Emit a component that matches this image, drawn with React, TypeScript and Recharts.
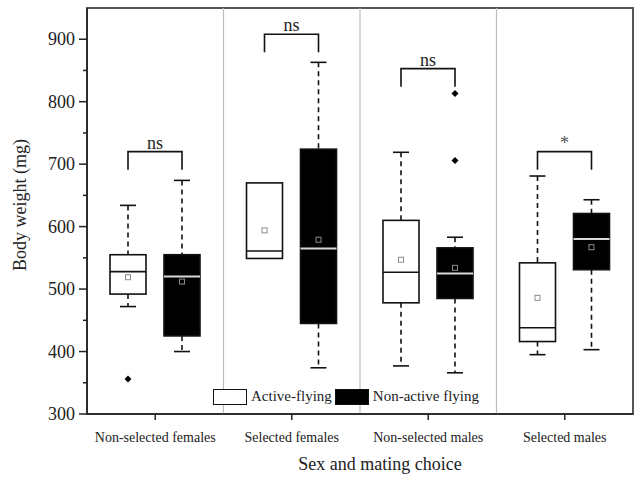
import {
  ComposedChart,
  Bar,
  XAxis,
  YAxis,
  Legend,
  ReferenceLine,
  ReferenceArea,
} from 'recharts';

const FONT = '"Liberation Serif", "Times New Roman", serif';

const CATEGORIES = ['Non-selected females', 'Selected females', 'Non-selected males', 'Selected males'];
const SERIES = ['Active-flying', 'Non-active flying'];
const FILLS = ['#ffffff', '#000000'];

// Active-flying box stats
const ACTIVE_MIN = [472, 549, 377, 395];
const ACTIVE_Q1 = [492, 549, 478, 416];
const ACTIVE_MEDIAN = [528, 561, 527, 438];
const ACTIVE_Q3 = [555, 670, 610, 542];
const ACTIVE_MAX = [634, 670, 719, 681];
const ACTIVE_MEAN = [519, 594, 547, 486];
const ACTIVE_OUTLIERS = [[356], [], [], []];

// Non-active flying box stats
const NONACTIVE_MIN = [400, 374, 366, 403];
const NONACTIVE_Q1 = [425, 445, 485, 531];
const NONACTIVE_MEDIAN = [520, 565, 525, 580];
const NONACTIVE_Q3 = [555, 724, 566, 621];
const NONACTIVE_MAX = [674, 863, 583, 643];
const NONACTIVE_MEAN = [512, 579, 534, 567];
const NONACTIVE_OUTLIERS = [[], [], [706, 813], []];

// significance brackets
const BRACKET_TOP = [720, 908, 853, 720];
const BRACKET_LEG = [691, 879, 824, 691];
const SIG_LABELS = ['ns', 'ns', 'ns', '*'];

const Y_TICKS = [300, 350, 400, 450, 500, 550, 600, 650, 700, 750, 800, 850, 900];
const GROUP_BOUNDS = [1, 2, 3];

const stats = (min: number[], q1: number[], med: number[], q3: number[], max: number[], mean: number[], out: number[][], i: number) => ({
  min: min[i], q1: q1[i], med: med[i], q3: q3[i], max: max[i], mean: mean[i], out: out[i],
});

const rows = CATEGORIES.map((cat, i) => {
  const a = stats(ACTIVE_MIN, ACTIVE_Q1, ACTIVE_MEDIAN, ACTIVE_Q3, ACTIVE_MAX, ACTIVE_MEAN, ACTIVE_OUTLIERS, i);
  const n = stats(NONACTIVE_MIN, NONACTIVE_Q1, NONACTIVE_MEDIAN, NONACTIVE_Q3, NONACTIVE_MAX, NONACTIVE_MEAN, NONACTIVE_OUTLIERS, i);
  return {
    cat,
    a,
    n,
    aRange: [Math.min(a.min, ...a.out), Math.max(a.max, ...a.out)],
    nRange: [Math.min(n.min, ...n.out), Math.max(n.max, ...n.out)],
    bracketTop: BRACKET_TOP[i],
    bracketLeg: BRACKET_LEG[i],
    sig: SIG_LABELS[i],
  };
});

const boxShape = (key: 'a' | 'n', dark: boolean) => (props: any) => {
  const { x, y, width, height, payload } = props;
  const s = payload[key];
  const [lo, hi] = payload[key + 'Range'];
  // linear map through the bar's own scaled extent
  const py = (v: number) => y + (height * (hi - v)) / (hi - lo);
  const cx = x + width / 2;
  const cap = 8;
  const ink = '#111';
  return (
    <g>
      {s.max > s.q3 && (
        <>
          <line x1={cx} x2={cx} y1={py(s.max)} y2={py(s.q3)} stroke={ink} strokeWidth={1.6} strokeDasharray="5 4" />
          <line x1={cx - cap} x2={cx + cap} y1={py(s.max)} y2={py(s.max)} stroke={ink} strokeWidth={1.6} />
        </>
      )}
      {s.min < s.q1 && (
        <>
          <line x1={cx} x2={cx} y1={py(s.q1)} y2={py(s.min)} stroke={ink} strokeWidth={1.6} strokeDasharray="5 4" />
          <line x1={cx - cap} x2={cx + cap} y1={py(s.min)} y2={py(s.min)} stroke={ink} strokeWidth={1.6} />
        </>
      )}
      <rect x={x} y={py(s.q3)} width={width} height={py(s.q1) - py(s.q3)} fill={dark ? '#000' : '#fff'} stroke={ink} strokeWidth={1.6} />
      <line x1={x} x2={x + width} y1={py(s.med)} y2={py(s.med)} stroke={dark ? '#d9d9d9' : ink} strokeWidth={dark ? 2 : 1.6} />
      <rect x={cx - 2.5} y={py(s.mean) - 2.5} width={5} height={5} fill={dark ? '#000' : '#fff'} stroke="#8c8c8c" strokeWidth={1} />
      {s.out.map((v: number, k: number) => {
        const oy = py(v);
        return <polygon key={k} points={`${cx},${oy - 3.5} ${cx + 3.5},${oy} ${cx},${oy + 3.5} ${cx - 3.5},${oy}`} fill="#000" />;
      })}
      {key === 'a' && (() => {
        const x2 = cx + width * 1.5;
        const top = py(payload.bracketTop);
        const leg = py(payload.bracketLeg);
        return (
          <g>
            <path d={`M${cx},${leg} L${cx},${top} L${x2},${top} L${x2},${leg}`} fill="none" stroke={ink} strokeWidth={1.6} />
            <text
              x={(cx + x2) / 2}
              y={top - 3}
              textAnchor="middle"
              fontFamily={FONT}
              fontSize={18}
              fill={payload.sig === '*' ? '#555' : '#222'}
            >
              {payload.sig}
            </text>
          </g>
        );
      })()}
    </g>
  );
};

const YTick = ({ x, y, payload }: any) => {
  const major = payload.value % 100 === 0;
  const edge = x + 12;
  return (
    <g>
      <line x1={edge - (major ? 8 : 4)} x2={edge} y1={y} y2={y} stroke="#222" strokeWidth={1.5} />
      {major && (
        <text x={x} y={y} dy={6} textAnchor="end" fontFamily={FONT} fontSize={18} fill="#222">
          {payload.value}
        </text>
      )}
    </g>
  );
};

const YTitle = ({ viewBox }: any) => {
  const cx = viewBox.x + 26;
  const cy = viewBox.y + viewBox.height / 2 - 6;
  return (
    <text x={cx} y={cy} transform={`rotate(-90 ${cx} ${cy})`} textAnchor="middle" fontFamily={FONT} fontSize={18} fill="#222">
      Body weight (mg)
    </text>
  );
};

const XTitle = ({ viewBox }: any) => (
  <text
    x={viewBox.x + viewBox.width / 2 + 20}
    y={viewBox.y + viewBox.height - 7}
    textAnchor="middle"
    fontFamily={FONT}
    fontSize={18}
    fill="#222"
  >
    Sex and mating choice
  </text>
);

const LegendContent = ({ payload }: any) => (
  <div style={{ display: 'flex', alignItems: 'center', fontFamily: FONT, fontSize: 15, color: '#222', whiteSpace: 'nowrap' }}>
    {(payload || []).map((e: any) => {
      const idx = SERIES.indexOf(e.value);
      return (
        <span key={e.value} style={{ display: 'flex', alignItems: 'center', marginRight: 3 }}>
          <span
            style={{
              display: 'inline-block',
              width: 34,
              height: 16,
              boxSizing: 'border-box',
              border: '1.5px solid #111',
              background: FILLS[idx],
              marginRight: 4,
            }}
          />
          {e.value}
        </span>
      );
    })}
  </div>
);

export default function App() {
  return (
    <div style={{ position: 'absolute', left: 0, top: 0, background: '#fff' }}>
      <ComposedChart
        width={634}
        height={477}
        data={rows}
        margin={{ top: 8, right: 1, bottom: 0, left: 0 }}
        barGap={18}
        barSize={36}
      >
        <XAxis xAxisId="sep" dataKey="none" type="number" domain={[0, 4]} allowDataOverflow hide />
        <XAxis
          xAxisId="cat"
          dataKey="cat"
          type="category"
          height={63}
          tickSize={6}
          tickMargin={12}
          axisLine={{ stroke: '#222', strokeWidth: 1.5 }}
          tickLine={{ stroke: '#222', strokeWidth: 1.5 }}
          tick={{ fontFamily: FONT, fontSize: 14, fill: '#222' }}
          interval={0}
          label={<XTitle />}
        />
        <YAxis
          type="number"
          domain={[300, 950]}
          ticks={Y_TICKS}
          allowDataOverflow
          width={87}
          tickSize={8}
          tickMargin={4}
          tickLine={false}
          axisLine={{ stroke: '#222', strokeWidth: 1.5 }}
          tick={<YTick />}
          interval={0}
          label={<YTitle />}
        />
        <ReferenceArea xAxisId="sep" x1={0} x2={4} y1={300} y2={950} fill="none" stroke="#555" strokeWidth={2} ifOverflow="visible" />
        {GROUP_BOUNDS.map((v) => (
          <ReferenceLine key={v} xAxisId="sep" x={v} stroke="#bdbdbd" strokeWidth={1.2} ifOverflow="visible" />
        ))}
        <Legend
          layout="vertical"
          align="center"
          verticalAlign="middle"
          content={<LegendContent />}
          wrapperStyle={{ left: 213, top: 388, width: 'auto' }}
        />
        <Bar
          xAxisId="cat"
          name={SERIES[0]}
          dataKey="aRange"
          fill={FILLS[0]}
          shape={boxShape('a', false)}
          isAnimationActive={false}
        />
        <Bar
          xAxisId="cat"
          name={SERIES[1]}
          dataKey="nRange"
          fill={FILLS[1]}
          shape={boxShape('n', true)}
          isAnimationActive={false}
        />
      </ComposedChart>
    </div>
  );
}
